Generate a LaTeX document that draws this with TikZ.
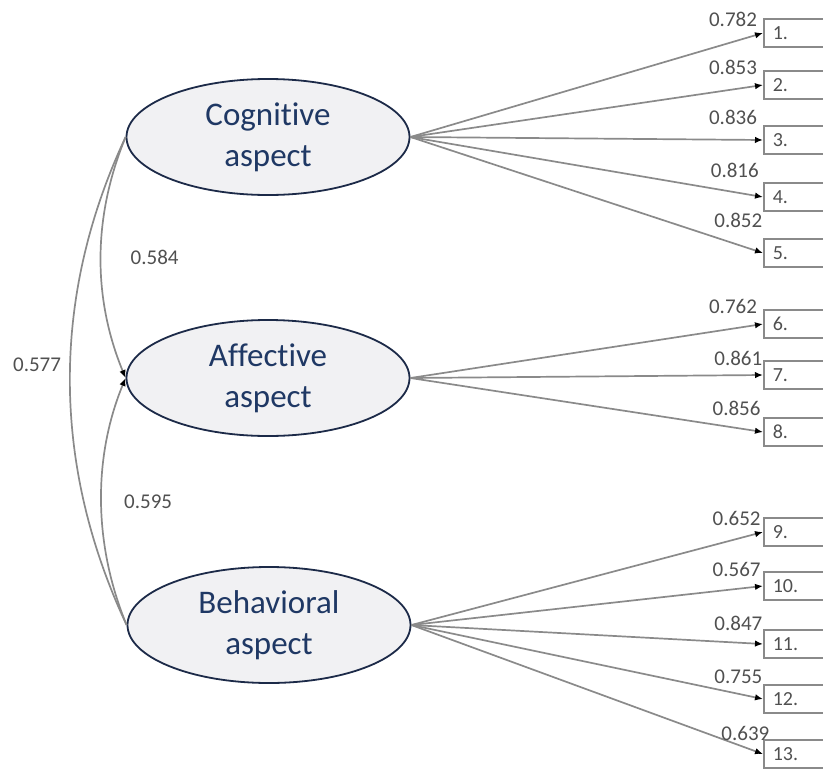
\documentclass[tikz,border=0pt]{standalone}
\usepackage{fontspec}
\setmainfont{Carlito}[Ligatures=NoCommon]
\usepackage{xcolor}
\usetikzlibrary{arrows.meta,shapes.geometric,calc}
\definecolor{azulTexto}{HTML}{1F3864}
\definecolor{azulBorda}{HTML}{1C2A48}
\definecolor{fundoFator}{HTML}{F1F1F3}
\definecolor{cinzaLinha}{HTML}{8A8A8A}
\definecolor{cinzaTexto}{HTML}{505050}
\tikzset{
    fator/.style={
        ellipse,
        draw=azulBorda,
        line width=1.8pt,
        fill=fundoFator,
        text=azulTexto,
        align=center,
        inner sep=0pt,
        minimum width=283pt,
        minimum height=116pt,
        font=\fontsize{33}{41}\selectfont
    },
    item/.style={
        rectangle,
        draw=cinzaLinha,
        line width=1.5pt,
        anchor=west,
        align=left,
        text width=72pt,
        inner xsep=9pt,
        minimum height=28pt,
        text=cinzaTexto,
        font=\fontsize{20}{24}\selectfont
    },
    valor/.style={text=cinzaTexto, inner sep=2pt, font=\fontsize{21}{25}\selectfont},
    carga/.style={draw=cinzaLinha, line width=1.7pt, -{Latex[length=8pt,width=6.5pt,color=black]}},
    covar/.style={carga}
}

\begin{document}
\begin{tikzpicture}[x=1pt, y=-1pt]
        \clip (0,0) rectangle (823,769);
        % fatores latentes
        \node[fator] (cog) at (268,137) {Cognitive\\aspect};
        \node[fator] (aff) at (268,378) {Affective\\aspect};
        \node[fator] (beh) at (269,625) {Behavioral\\aspect};

        % itens observados
        \node[item] (i1) at (763,33) {1.};
        \node[item] (i2) at (763,85) {2.};
        \node[item] (i3) at (763,140) {3.};
        \node[item] (i4) at (763,197) {4.};
        \node[item] (i5) at (763,253) {5.};
        \node[item] (i6) at (763,324) {6.};
        \node[item] (i7) at (763,375) {7.};
        \node[item] (i8) at (763,432) {8.};
        \node[item] (i9) at (763,532) {9.};
        \node[item] (i10) at (763,586) {10.};
        \node[item] (i11) at (763,644) {11.};
        \node[item] (i12) at (763,699) {12.};
        \node[item] (i13) at (763,754) {13.};

        % cargas fatoriais
        \draw[carga] (cog.east) -- node[pos=0.915, above=12pt, valor] (c1) {0.782} (i1.west);
        \draw[carga] (cog.east) -- node[pos=0.915, above=12pt, valor] (c2) {0.853} (i2.west);
        \draw[carga] (cog.east) -- node[pos=0.915, above=12pt, valor] (c3) {0.836} (i3.west);
        \draw[carga] (cog.east) -- node[pos=0.92, above=12pt, valor] (c4) {0.816} (i4.west);
        \draw[carga] (cog.east) -- node[pos=0.93, above=14pt, valor] (c5) {0.852} (i5.west);
        \draw[carga] (aff.east) -- node[pos=0.915, above=12pt, valor] (c6) {0.762} (i6.west);
        \draw[carga] (aff.east) -- node[pos=0.93, above=7pt, valor] (c7) {0.861} (i7.west);
        \draw[carga] (aff.east) -- node[pos=0.925, above=9pt, valor] (c8) {0.856} (i8.west);
        \draw[carga] (beh.east) -- node[pos=0.925, above=10pt, valor] (c9) {0.652} (i9.west);
        \draw[carga] (beh.east) -- node[pos=0.925, above=9pt, valor] (c10) {0.567} (i10.west);
        \draw[carga] (beh.east) -- node[pos=0.93, above=9pt, valor] (c11) {0.847} (i11.west);
        \draw[carga] (beh.east) -- node[pos=0.93, above=7pt, valor] (c12) {0.755} (i12.west);
        \draw[carga] (beh.east) -- node[pos=0.95, above=4pt, valor] (c13) {0.639} (i13.west);

        % correlacoes
        \draw[covar] (cog.west) .. controls ($(cog.west)+(-33,80)$) and ($(aff.west)+(-33,-80)$) .. (aff.west)
            node[pos=0.5, right=27pt, valor] (r1) {0.584};
        \draw[covar] (beh.west) .. controls ($(beh.west)+(-33,-80)$) and ($(aff.west)+(-33,80)$) .. (aff.west)
            node[pos=0.5, right=20pt, valor] (r2) {0.595};
        \draw[draw=cinzaLinha, line width=1.7pt] (cog.west) .. controls ($(cog.west)+(-75,160)$) and ($(beh.west)+(-75,-160)$) .. (beh.west)
            node[pos=0.5, left=6pt, yshift=16pt, valor] (r3) {0.577};
    \end{tikzpicture}
\end{document}
